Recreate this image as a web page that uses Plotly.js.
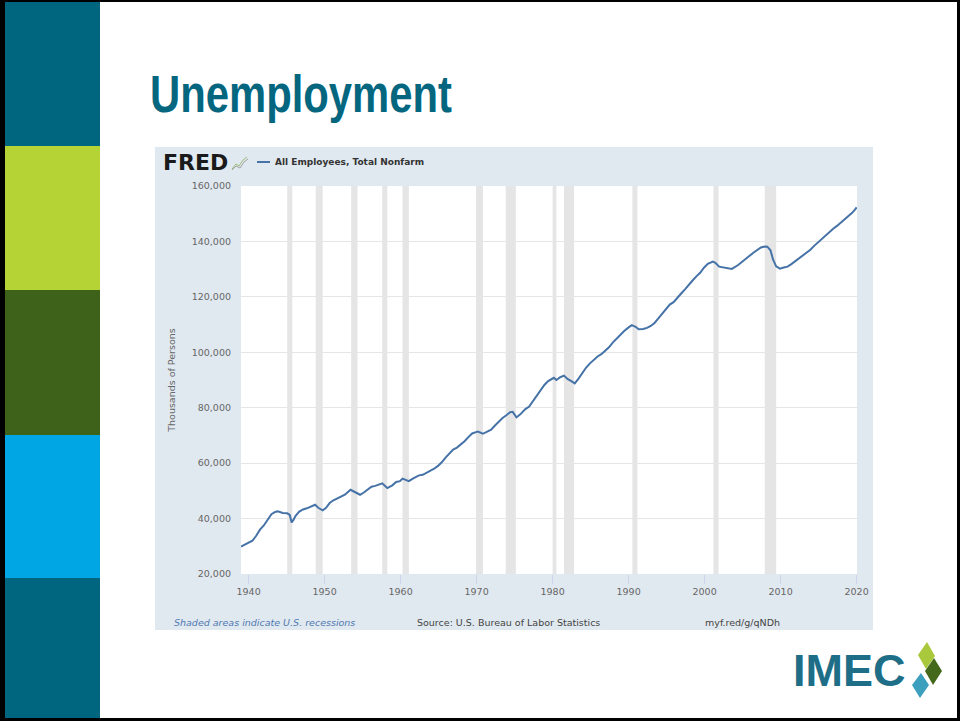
<!DOCTYPE html>
<html>
<head>
<meta charset="utf-8">
<script src="https://cdn.plot.ly/plotly-3.0.1.min.js"></script>
<style>html,body{margin:0;padding:0;background:#fff;}#chart{width:960px;height:721px;}</style>
</head>
<body>
<div id="chart"></div>
<script>
// ---- Data: All Employees, Total Nonfarm (thousands of persons) ----
const dates = [
"1939-01","1939-07","1940-01","1940-07","1941-01","1941-07","1942-01","1942-07","1943-01","1943-07","1943-11",
"1944-07","1945-02","1945-06","1945-09","1945-12","1946-03","1946-09","1947-03","1947-09","1948-06","1948-10",
"1949-03","1949-10","1950-03","1950-09","1951-03","1951-09","1952-03","1952-09","1953-06","1953-12","1954-06",
"1954-09","1955-03","1955-09","1956-03","1956-09","1957-03","1957-08","1958-04","1958-12","1959-06","1959-12",
"1960-04","1960-12","1961-02","1961-09","1962-06","1962-12","1963-06","1963-12","1964-06","1964-12","1965-06",
"1965-12","1966-06","1966-12","1967-06","1967-12","1968-06","1968-12","1969-06","1969-12","1970-03","1970-11",
"1971-06","1971-12","1972-06","1972-12","1973-06","1973-12","1974-06","1974-10","1975-04","1975-10","1976-06",
"1976-12","1977-06","1977-12","1978-06","1978-12","1979-06","1979-12","1980-03","1980-07","1981-01","1981-07",
"1982-01","1982-06","1982-12","1983-06","1983-12","1984-06","1984-12","1985-06","1985-12","1986-06","1986-12",
"1987-06","1987-12","1988-06","1988-12","1989-06","1989-12","1990-06","1990-12","1991-05","1991-12","1992-06",
"1992-12","1993-06","1993-12","1994-06","1994-12","1995-06","1995-12","1996-06","1996-12","1997-06","1997-12",
"1998-06","1998-12","1999-06","1999-12","2000-06","2001-02","2001-06","2001-12","2002-06","2002-12","2003-08",
"2004-06","2004-12","2005-06","2005-12","2006-06","2006-12","2007-06","2007-12","2008-04","2008-09","2009-01",
"2009-06","2009-12","2010-06","2010-12","2011-06","2011-12","2012-06","2012-12","2013-06","2013-12","2014-06",
"2014-12","2015-06","2015-12","2016-06","2016-12","2017-06","2017-12","2018-06","2018-12","2019-06","2019-12","2020-01"
];
const employees = [
29900,30600,31600,32000,33800,36000,37500,39500,41600,42400,42600,
42000,41900,41300,38600,39600,40900,42500,43300,43700,44800,45000,
43900,43000,43800,45600,46600,47300,47800,48600,50400,49600,48700,
48600,49400,50600,51500,51800,52400,52700,51000,52000,53200,53500,
54400,53900,53500,54500,55600,55800,56500,57100,58000,59000,60300,
62000,63600,64900,65600,66700,67900,69400,70700,71200,71400,70600,
71300,72100,73600,75000,76300,77300,78400,78500,76500,77600,79500,
80400,82300,84200,86300,88200,89600,90500,90800,90000,91000,91600,
90300,89700,88800,90500,92500,94500,96000,97300,98500,99300,100400,
101800,103500,105000,106600,107700,108800,109800,109200,108300,108400,108800,
109500,110600,112200,114000,115800,117200,118100,119500,121200,122700,124500,
125900,127400,128700,130500,131900,132700,132300,130900,130700,130600,130100,
131500,132500,133600,134800,135900,137000,137800,138200,138100,136800,133500,
131000,130200,130600,130900,131800,132800,133800,134800,135900,137000,138400,
139700,141000,142300,143400,144600,145600,146800,148000,149200,150300,151900,152300
];
// U.S. recessions (shaded)
const recStart = ["1945-02-01","1948-11-01","1953-07-01","1957-08-01","1960-04-01","1969-12-01","1973-11-01","1980-01-01","1981-07-01","1990-07-01","2001-03-01","2007-12-01"];
const recEnd   = ["1945-10-01","1949-10-01","1954-05-01","1958-04-01","1961-02-01","1970-11-01","1975-03-01","1980-07-01","1982-11-01","1991-03-01","2001-11-01","2009-06-01"];
const yTicks = [20000,40000,60000,80000,100000,120000,140000,160000];
const seriesName = "All Employees, Total Nonfarm";

// ---- Layout geometry helpers (pixel -> paper) ----
const Wd = 960, Ht = 721;
const L = 241, R = 857, T = 186, B = 574;
const PW = R - L, PH = B - T;
const fx = px => (px - L) / PW;
const fy = py => (B - py) / PH;
const rectP = (x0, y0, x1, y1, color) => ({
  type: 'rect', xref: 'paper', yref: 'paper', layer: 'below',
  x0: fx(x0), x1: fx(x1), y0: fy(y1), y1: fy(y0),
  fillcolor: color, line: {width: 0}
});
const pathP = (pts, color) => ({
  type: 'path', xref: 'paper', yref: 'paper', layer: 'above',
  path: 'M' + pts.map(p => fx(p[0]).toFixed(5) + ',' + fy(p[1]).toFixed(5)).join('L') + 'Z',
  fillcolor: color, line: {width: 0}
});
const lineP = (pts, color, w) => ({
  type: 'path', xref: 'paper', yref: 'paper', layer: 'above',
  path: 'M' + pts.map(p => fx(p[0]).toFixed(5) + ',' + fy(p[1]).toFixed(5)).join('L'),
  line: {color: color, width: w}
});

const shapes = [];
// slide side bar
shapes.push(rectP(0, 0, 100, 146, '#006680'));
shapes.push(rectP(0, 146, 100, 290, '#b5d334'));
shapes.push(rectP(0, 290, 100, 435, '#3f621b'));
shapes.push(rectP(0, 435, 100, 578, '#00a6e4'));
shapes.push(rectP(0, 578, 100, 721, '#006680'));
// slide border
shapes.push(rectP(0, 0, 5, 721, '#000'));
shapes.push(rectP(0, 0, 960, 2, '#000'));
shapes.push(rectP(957, 0, 960, 721, '#000'));
shapes.push(rectP(0, 718, 960, 721, '#000'));
// FRED panel (frame around the plot area)
const PANEL = '#e1e9f0';
shapes.push(rectP(155, 147, 873, T, PANEL));
shapes.push(rectP(155, B, 873, 630, PANEL));
shapes.push(rectP(155, T, L, B, PANEL));
shapes.push(rectP(R, T, 873, B, PANEL));
// recession bands
for (let i = 0; i < recStart.length; i++) {
  shapes.push({type: 'rect', xref: 'x', yref: 'paper', layer: 'below',
    x0: recStart[i], x1: recEnd[i], y0: 0, y1: 1,
    fillcolor: '#e5e5e5', line: {width: 0}});
}
// FRED mini icon
shapes.push(lineP([[232,169],[236,164],[239,166],[243,160],[247,157]], '#9bbf7a', 1));
shapes.push(lineP([[232,170],[236,166],[240,168],[244,162],[248,159]], '#a0a0a0', 1));
// legend line sample
shapes.push(lineP([[257,162],[270,162]], '#4572a7', 2));
// IMEC diamonds
shapes.push(pathP([[927,642],[935,656],[926,669],[918,655]], '#a9c83c'));
shapes.push(pathP([[934,658],[942,671],[933,685],[925,671]], '#44691c'));
shapes.push(pathP([[921,673],[929,685],[920,698],[912,685]], '#3d9fbe'));

const annotations = [
  {text: '<b>FRED</b>', x: fx(161), y: fy(162), xref: 'paper', yref: 'paper', xanchor: 'left', yanchor: 'middle',
   showarrow: false, font: {family: 'DejaVu Sans', size: 22, color: '#1a1a1a'}},
  {text: '<b>' + seriesName + '</b>', x: fx(273), y: fy(162), xref: 'paper', yref: 'paper',
   xanchor: 'left', yanchor: 'middle', showarrow: false, font: {family: 'DejaVu Sans', size: 9, color: '#333333'}},
  {text: '<i>Shaded areas indicate U.S. recessions</i>', x: fx(172), y: fy(622), xref: 'paper', yref: 'paper',
   xanchor: 'left', yanchor: 'middle', showarrow: false, font: {family: 'DejaVu Sans', size: 9.5, color: '#4f78b0'}},
  {text: 'Source: U.S. Bureau of Labor Statistics', x: fx(415), y: fy(622), xref: 'paper', yref: 'paper',
   xanchor: 'left', yanchor: 'middle', showarrow: false, font: {family: 'DejaVu Sans', size: 9.5, color: '#444444'}},
  {text: 'myf.red/g/qNDh', x: fx(703), y: fy(622), xref: 'paper', yref: 'paper',
   xanchor: 'left', yanchor: 'middle', showarrow: false, font: {family: 'DejaVu Sans', size: 9.5, color: '#444444'}},
  {text: '<b>IMEC</b>', x: fx(791), y: fy(670), xref: 'paper', yref: 'paper',
   xanchor: 'left', yanchor: 'middle', showarrow: false, font: {family: 'Liberation Sans', size: 45, color: '#1d6e86'}}
];

const trace = {
  x: dates, y: employees, type: 'scatter', mode: 'lines', name: seriesName,
  line: {color: '#4572a7', width: 2}, hoverinfo: 'x+y'
};

const layout = {
  width: Wd, height: Ht,
  margin: {l: L, r: Wd - R, t: T, b: Ht - B, pad: 0},
  paper_bgcolor: '#ffffff', plot_bgcolor: '#ffffff',
  showlegend: false,
  title: {text: 'Unemployment', x: 150 / Wd, xanchor: 'left', xref: 'container', yref: 'container',
          y: 1 - 94 / Ht, yanchor: 'middle',
          font: {family: 'Liberation Sans Narrow, Liberation Sans, sans-serif', size: 51, weight: 'bold', color: '#05677f'}},
  xaxis: {
    type: 'date', range: ['1939-01-01', '2020-01-20'],
    tick0: '1940-01-01', dtick: 'M120', tickformat: '%Y',
    ticks: 'outside', ticklen: 9, tickcolor: '#ccd6eb', tickwidth: 1,
    showgrid: false, zeroline: false, showline: false,
    tickfont: {family: 'DejaVu Sans', size: 9.5, color: '#666666'}
  },
  yaxis: {
    range: [20000, 160000], tickvals: yTicks, tickformat: ',d',
    showgrid: true, gridcolor: '#e6e6e6', gridwidth: 1, zeroline: false, showline: false,
    ticks: '', ticklabelstandoff: 9,
    tickfont: {family: 'DejaVu Sans', size: 9.5, color: '#666666'},
    title: {text: 'Thousands of Persons', standoff: 14, font: {family: 'DejaVu Sans', size: 9.5, color: '#666666'}}
  },
  shapes: shapes,
  annotations: annotations
};

Plotly.newPlot('chart', [trace], layout, {displayModeBar: false, staticPlot: true}).then(gd => {
  // condense the slide title to the narrow width of the original heading
  const t = gd.querySelector('.gtitle');
  if (t && t.getComputedTextLength) {
    const len = t.getComputedTextLength();
    const target = 302;
    if (len > target + 4) {
      const s = target / len;
      const x0 = 150;
      t.setAttribute('transform', 'translate(' + x0 + ',0) scale(' + s.toFixed(4) + ',1) translate(' + (-x0) + ',0)');
    }
  }
});
</script>
</body>
</html>
